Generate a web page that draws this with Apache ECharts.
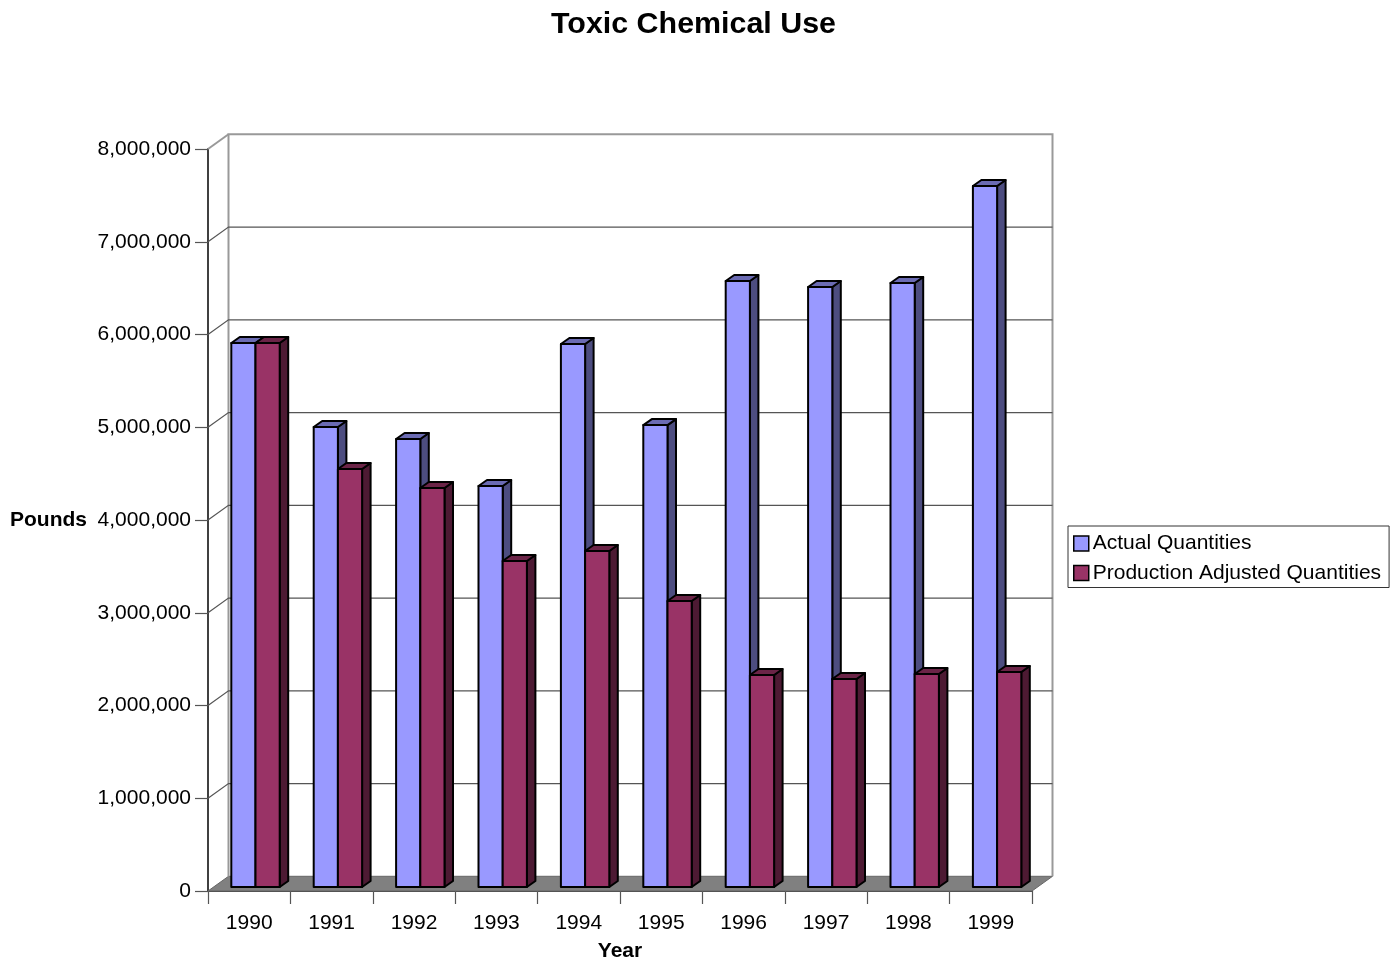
<!DOCTYPE html>
<html>
<head>
<meta charset="utf-8">
<style>html,body{margin:0;padding:0;background:#fff}#c{width:1398px;height:960px}</style>
<script src="https://cdn.jsdelivr.net/npm/echarts@6/dist/echarts.min.js"></script>
</head>
<body>
<div id="c"></div>
<script>
const years = ['1990','1991','1992','1993','1994','1995','1996','1997','1998','1999'];
const actualQuantities = [5865000,4960000,4830000,4323000,5855000,4980000,6534000,6469000,6512000,7558000];
const productionAdjusted = [5865000,4507000,4302000,3515000,3623000,3083000,2286000,2243000,2297000,2318000];
const yTicks = [1000000,2000000,3000000,4000000,5000000,6000000,7000000];

const DX = 20.5, DY = -14.7;       // wall depth
const BX = 6.3, BY = -4;           // bar position inside the floor
const SX = 8.5, SY = -6;           // bar depth
const BAR_W = 24.2;
const FONT = '"Liberation Sans", Arial, sans-serif';

function barRender(side, fill, topFill, sideFill) {
  return function (params, api) {
    const i = api.value(0);
    const t = api.coord([i, api.value(1)]);
    const b = api.coord([i, 0]);
    const x0 = t[0] + BX + (side < 0 ? -BAR_W : 0), x1 = x0 + BAR_W;
    const yt = t[1] + BY, yb = b[1] + BY;
    const st = {stroke: '#000', lineWidth: 2, lineJoin: 'round'};
    return {type: 'group', children: [
      {type: 'polygon', shape: {points: [[x1,yt],[x1+SX,yt+SY],[x1+SX,yb+SY],[x1,yb]]}, style: {fill: sideFill, ...st}},
      {type: 'polygon', shape: {points: [[x0,yt],[x0+SX,yt+SY],[x1+SX,yt+SY],[x1,yt]]}, style: {fill: topFill, ...st}},
      {type: 'rect', shape: {x: x0, y: yt, width: BAR_W, height: yb - yt}, style: {fill: fill, ...st}}
    ]};
  };
}

const chart = echarts.init(document.getElementById('c'), null, {renderer: 'canvas', width: 1398, height: 960});
chart.setOption({
  animation: false,
  backgroundColor: '#fff',
  title: {
    text: 'Toxic Chemical Use', left: 688.5, top: 5, textAlign: 'center',
    textStyle: {fontFamily: FONT, fontSize: 30.4, fontWeight: 'bold', color: '#000'}
  },
  grid: {left: 208, top: 149, width: 824, height: 742, containLabel: false, outerBoundsMode: 'none'},
  legend: {
    orient: 'vertical', left: 1068, top: 526, padding: [7, 8, 4, 5], itemGap: 8.5,
    width: 320, backgroundColor: '#fff', borderColor: '#333', borderWidth: 1, borderRadius: 0,
    itemWidth: 15, itemHeight: 15, itemStyle: {borderColor: '#000', borderWidth: 1.5},
    textStyle: {fontFamily: FONT, fontSize: 21, color: '#000', padding: [0, 0, 0, -1]},
    data: [
      {name: 'Actual Quantities', icon: 'rect', itemStyle: {color: '#9999FF'}},
      {name: 'Production Adjusted Quantities', icon: 'rect', itemStyle: {color: '#993366'}}
    ]
  },
  xAxis: {
    type: 'category', data: years, boundaryGap: true,
    name: 'Year', nameLocation: 'middle', nameGap: 50,
    nameTextStyle: {fontFamily: FONT, fontSize: 21, fontWeight: 'bold', color: '#000'},
    axisLine: {lineStyle: {color: '#404040', width: 2}},
    axisTick: {show: true, length: 13, lineStyle: {color: '#555', width: 1.2}},
    axisLabel: {fontFamily: FONT, fontSize: 21, color: '#000', margin: 22},
    splitLine: {show: false}
  },
  yAxis: {
    type: 'value', min: 0, max: 8000000, interval: 1000000,
    name: 'Pounds', nameLocation: 'middle', nameRotate: 0, nameGap: 121,
    nameTextStyle: {fontFamily: FONT, fontSize: 21, fontWeight: 'bold', color: '#000', padding: [2, 0, 0, 0]},
    axisLine: {show: true, lineStyle: {color: '#404040', width: 2}},
    axisTick: {show: true, length: 13, lineStyle: {color: '#555', width: 1.2}},
    axisLabel: {fontFamily: FONT, fontSize: 21, color: '#000', margin: 17, padding: [4, 0, 0, 0],
      formatter: v => v.toLocaleString('en-US')},
    splitLine: {show: false}
  },
  series: [
    { // walls and floor
      type: 'custom', silent: true, z: 1, clip: false, data: [[0, 0]],
      renderItem: function (params, api) {
        const c = params.coordSys, x = c.x, y = c.y, w = c.width, h = c.height;
        const frame = {stroke: '#999', lineWidth: 2, fill: null};
        return {type: 'group', children: [
          {type: 'polygon', shape: {points: [[x,y+h],[x+DX,y+h+DY],[x+w+DX,y+h+DY],[x+w,y+h]]},
            style: {fill: '#808080', stroke: '#666', lineWidth: 1}},
          {type: 'polyline', shape: {points: [[x+DX,y+h+DY],[x+DX,y+DY],[x+w+DX,y+DY],[x+w+DX,y+h+DY]]}, style: frame},
          {type: 'line', shape: {x1: x, y1: y, x2: x+DX, y2: y+DY}, style: frame}
        ]};
      }
    },
    { // gridlines on the back and left walls
      type: 'custom', silent: true, z: 1, clip: false,
      data: yTicks.map(v => [0, v]),
      renderItem: function (params, api) {
        const c = params.coordSys, x = c.x, w = c.width;
        const y = api.coord([0, api.value(1)])[1];
        return {type: 'polyline', shape: {points: [[x,y],[x+DX,y+DY],[x+w+DX,y+DY]]},
          style: {stroke: '#555', lineWidth: 1.2, fill: null}};
      }
    },
    {
      name: 'Actual Quantities', type: 'custom', z: 3, clip: false,
      itemStyle: {color: '#9999FF'},
      data: actualQuantities.map((v, i) => [i, v]),
      renderItem: barRender(-1, '#9999FF', '#6B6BB3', '#4D4D80')
    },
    {
      name: 'Production Adjusted Quantities', type: 'custom', z: 4, clip: false,
      itemStyle: {color: '#993366'},
      data: productionAdjusted.map((v, i) => [i, v]),
      renderItem: barRender(1, '#993366', '#6B2447', '#4D1A33')
    }
  ]
});
</script>
</body>
</html>
